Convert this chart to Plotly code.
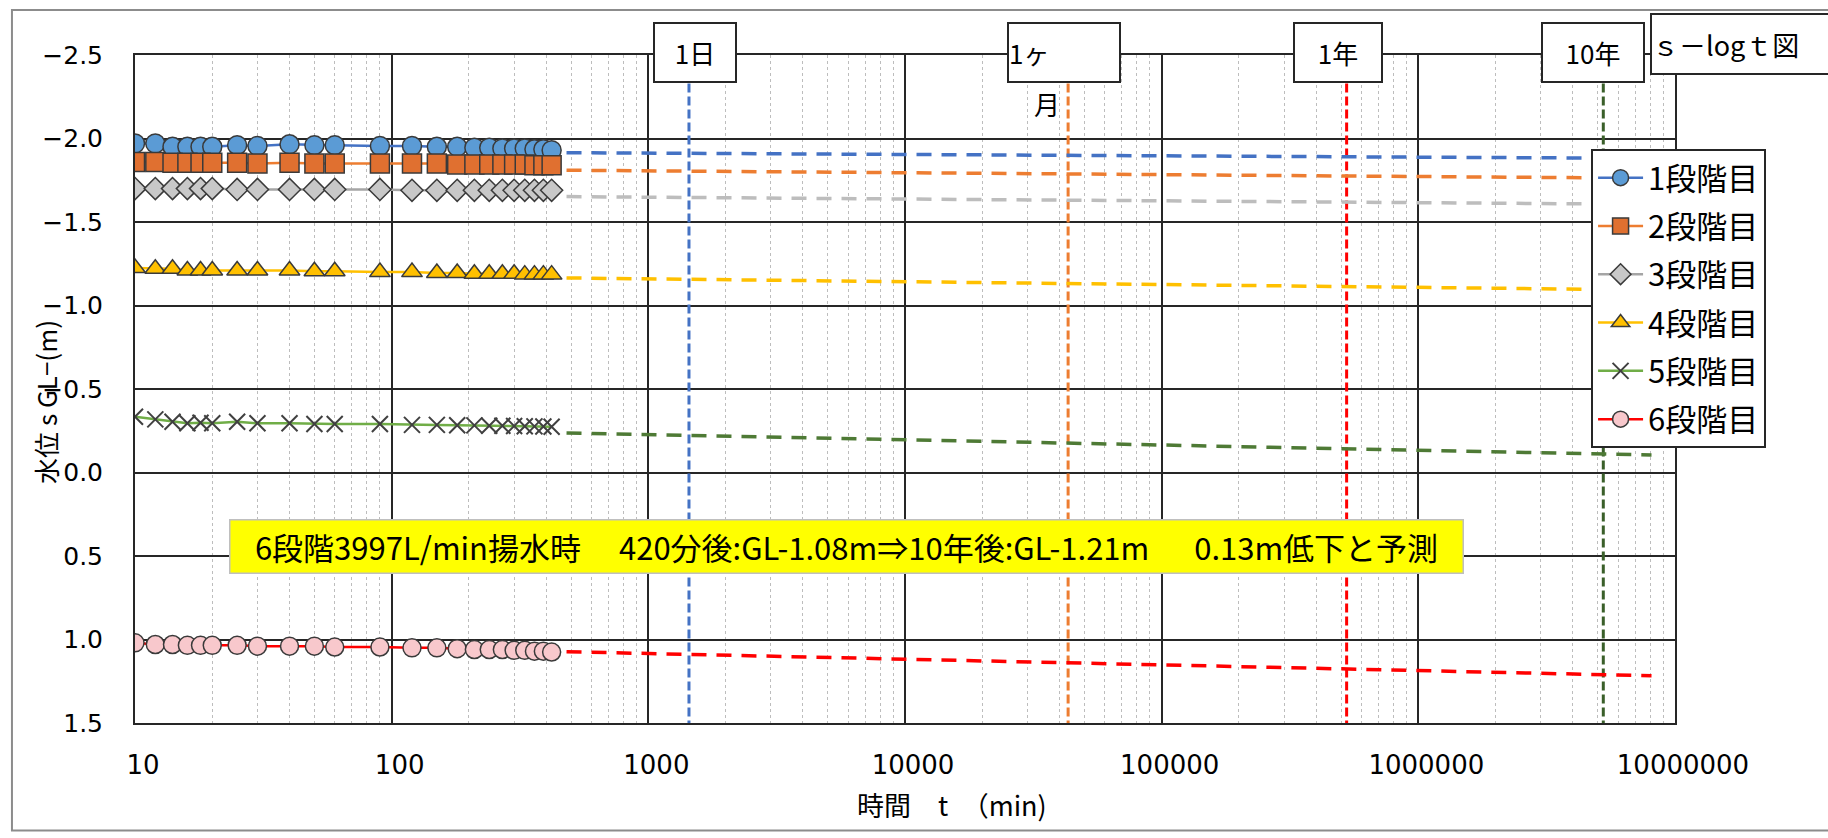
import math
import plotly.graph_objects as go

# ---------------- data ----------------
t_obs = [10, 12, 14, 16, 18, 20, 25, 30, 40, 50, 60, 90, 120, 150, 180, 210, 240, 270, 300, 330, 360, 390, 420]

s1 = [-1.97, -1.97, -1.95, -1.95, -1.95, -1.95, -1.96, -1.955, -1.965, -1.96, -1.96, -1.955,
      -1.955, -1.95, -1.95, -1.945, -1.945, -1.94, -1.94, -1.94, -1.935, -1.935, -1.93]
s2 = [-1.86, -1.86, -1.855, -1.855, -1.855, -1.855, -1.855, -1.85, -1.855, -1.85, -1.85, -1.85,
      -1.85, -1.85, -1.845, -1.845, -1.845, -1.845, -1.845, -1.845, -1.84, -1.84, -1.84]
s3 = [-1.70, -1.70, -1.70, -1.70, -1.70, -1.70, -1.695, -1.695, -1.695, -1.695, -1.695, -1.695,
      -1.69, -1.69, -1.69, -1.69, -1.69, -1.69, -1.69, -1.69, -1.69, -1.69, -1.69]
s4 = [-1.225, -1.22, -1.22, -1.21, -1.21, -1.21, -1.21, -1.21, -1.21, -1.205, -1.205, -1.20,
      -1.20, -1.195, -1.195, -1.19, -1.19, -1.19, -1.19, -1.185, -1.185, -1.185, -1.185]
s5 = [-0.334, -0.318, -0.304, -0.295, -0.298, -0.295, -0.304, -0.295, -0.295, -0.29, -0.29, -0.29,
      -0.285, -0.285, -0.283, -0.282, -0.28, -0.28, -0.278, -0.277, -0.276, -0.275, -0.274]
s6 = [1.02, 1.03, 1.03, 1.035, 1.035, 1.035, 1.035, 1.04, 1.04, 1.04, 1.045, 1.045,
      1.05, 1.05, 1.055, 1.06, 1.06, 1.06, 1.065, 1.065, 1.07, 1.07, 1.075]

# projected (dashed) lines: start / end
t_proj = [480, 8.1e6]
p1 = [-1.915, -1.881]
p2 = [-1.81, -1.762]
p3 = [-1.652, -1.606]
p4 = [-1.165, -1.093]
p5 = [-0.237, -0.105]
p6 = [1.073, 1.217]

series_names = ["1段階目", "2段階目", "3段階目", "4段階目", "5段階目", "6段階目"]

event_t = [1440, 43200, 525600, 5256000]
event_labels = ["1日", "1ヶ", "1年", "10年"]
event_colors = ["#4472C4", "#ED7D31", "#FF0000", "#3A5F2A"]

x_tickvals = [10, 100, 1000, 10000, 100000, 1000000, 10000000]
x_ticktext = ["10", "100", "1000", "10000", "100000", "1000000", "10000000"]
y_tickvals = [-2.5, -2.0, -1.5, -1.0, -0.5, 0.0, 0.5, 1.0, 1.5]

x_title = "時間　t　（min)"
y_title = "水位 s GL−(m)"
chart_title = "ｓ－logｔ図"
note_text = "6段階3997L/min揚水時　 420分後:GL-1.08m⇒10年後:GL-1.21m　  0.13m低下と予測"

# ---------------- styles ----------------
NUMFONT = "DejaVu Sans, Liberation Sans, sans-serif"
JFONT = "Noto Sans CJK JP, sans-serif"

obs_vals = [s1, s2, s3, s4, s5, s6]
proj_vals = [p1, p2, p3, p4, p5, p6]
line_colors = ["#4472C4", "#ED7D31", "#A5A5A5", "#FFC000", "#70AD47", "#FF0000"]
proj_colors = ["#4472C4", "#ED7D31", "#BDBDBD", "#FFC000", "#4E7A35", "#FF0000"]
marker_syms = ["circle", "square", "diamond", "triangle-up", "x-thin", "circle"]
marker_fill = ["#5B9BD5", "#E07030", "#C8C8C8", "#FFC000", "#404040", "#F8C8CC"]
marker_size = [19, 19, 17, 18, 16, 18]

fig = go.Figure()

# vertical event lines
for t, c in zip(event_t, event_colors):
    fig.add_trace(go.Scatter(
        x=[t, t], y=[-2.33, 1.5], mode="lines", showlegend=False, hoverinfo="skip",
        line=dict(color=c, width=3, dash="9px,4px")))

# projections
for pv, c in zip(proj_vals, proj_colors):
    fig.add_trace(go.Scatter(
        x=t_proj, y=pv, mode="lines", showlegend=False, hoverinfo="skip",
        line=dict(color=c, width=3.5, dash="15px,10px")))

# observed series
for i, (name, vals) in enumerate(zip(series_names, obs_vals)):
    if marker_syms[i] == "x-thin":
        mk = dict(symbol="x-thin", size=marker_size[i], color="#404040",
                  line=dict(color="#404040", width=2))
    else:
        mk = dict(symbol=marker_syms[i], size=marker_size[i], color=marker_fill[i],
                  line=dict(color="#3A3A3A", width=1.5))
    fig.add_trace(go.Scatter(
        x=t_obs, y=vals, mode="lines+markers", name=name, legendgroup=name,
        line=dict(color=line_colors[i], width=2.5), marker=mk))

# ---------------- annotations ----------------
ann = []
box_w = [80, 110, 86, 100]
box_shift = [6, -4, -9, -10]
for t, lab, w, sh in zip(event_t, event_labels, box_w, box_shift):
    ann.append(dict(x=math.log10(t), xref="x", y=1.003, yref="paper", text=lab, showarrow=False,
                    xanchor="center", yanchor="middle", xshift=sh,
                    width=w, height=57, align="left" if lab == "1ヶ" else "center",
                    bgcolor="white", bordercolor="#262626", borderwidth=2, borderpad=0,
                    font=dict(family=JFONT, size=26, color="black")))
ann.append(dict(x=math.log10(event_t[1]), xref="x", y=0.928, yref="paper", text="月", showarrow=False,
                xanchor="center", yanchor="middle", xshift=-21,
                font=dict(family=JFONT, size=26, color="black")))
ann.append(dict(x=0.9838, xref="paper", y=1.016, yref="paper", text=chart_title, showarrow=False,
                xanchor="left", yanchor="middle", width=178, height=58, borderpad=0, align="left",
                bgcolor="white", bordercolor="#262626", borderwidth=2,
                font=dict(family=JFONT, size=27, color="black")))
ann.append(dict(x=0.4617, xref="paper", y=0.2642, yref="paper", text=note_text, showarrow=False,
                xanchor="center", yanchor="middle", width=1232, height=52, borderpad=0,
                bgcolor="#FFFF00", bordercolor="#BFBFBF", borderwidth=1.5,
                font=dict(family=JFONT, size=31, color="black")))
# axis titles
ann.append(dict(x=0.5305, xref="paper", y=-0.1213, yref="paper", text=x_title, showarrow=False,
                xanchor="center", yanchor="middle",
                font=dict(family=JFONT, size=27, color="black")))
ann.append(dict(x=-0.0585, xref="paper", y=0.4805, yref="paper", text=y_title, showarrow=False,
                xanchor="center", yanchor="middle", textangle=-90,
                font=dict(family=JFONT, size=26, color="black")))

minor_vals = [k * 10 ** e for e in range(1, 7) for k in range(2, 10)]

fig.update_layout(
    width=1828, height=838, autosize=False,
    margin=dict(l=135, r=153, t=55, b=115),
    paper_bgcolor="white", plot_bgcolor="white",
    font=dict(family=NUMFONT, size=22, color="black"),
    annotations=ann,
    shapes=[dict(type="rect", xref="paper", yref="paper",
                 x0=-0.0799, x1=1.105, y0=-0.161, y1=1.0674,
                 line=dict(color="#8C8C8C", width=2), fillcolor="rgba(0,0,0,0)", layer="below")],
    legend=dict(x=0.9455, y=0.8593, xanchor="left", yanchor="top",
                bgcolor="white", bordercolor="#262626", borderwidth=2,
                font=dict(family=JFONT, size=31, color="black"),
                itemwidth=45, tracegroupgap=5, itemclick=False,
                entrywidth=226, entrywidthmode="pixels"),
    xaxis=dict(type="log", range=[1, 7], tickvals=x_tickvals, ticktext=x_ticktext,
               showgrid=True, gridcolor="#262626", gridwidth=2,
               showline=True, linecolor="#262626", linewidth=2, mirror=True,
               ticks="", ticklabelstandoff=18, ticklabelshift=8,
               tickfont=dict(family=NUMFONT, size=26),
               minor=dict(tickvals=minor_vals, showgrid=True, gridcolor="#BDBDBD",
                          griddash="dot", gridwidth=1, ticks=""),
               zeroline=False),
    yaxis=dict(range=[1.5, -2.5], tickvals=y_tickvals, tickformat=".1f",
               showgrid=True, gridcolor="#262626", gridwidth=2,
               showline=True, linecolor="#262626", linewidth=2, mirror=True,
               ticks="", ticklabelstandoff=25,
               tickfont=dict(family=NUMFONT, size=25),
               zeroline=False),
)

fig.write_html("out.html")
